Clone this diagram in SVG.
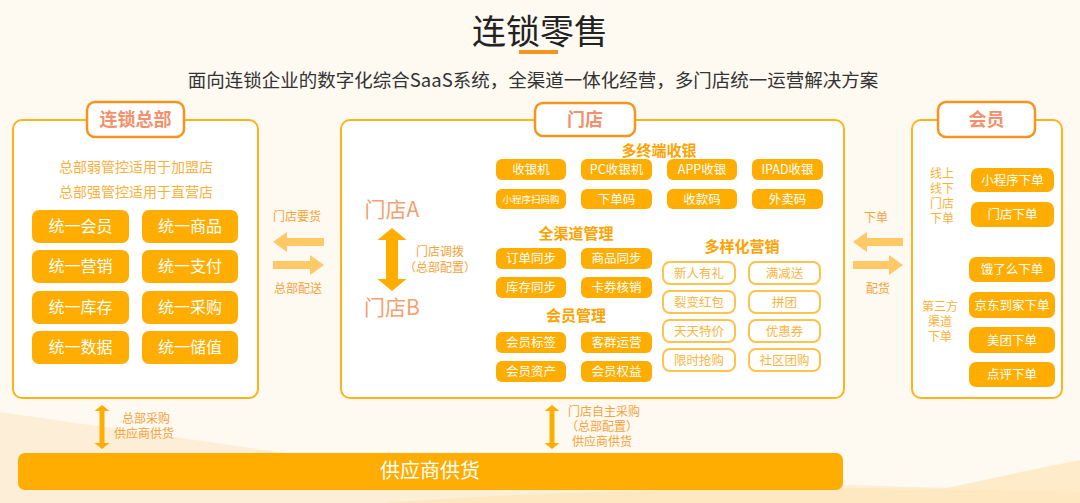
<svg xmlns="http://www.w3.org/2000/svg" width="1080" height="503" viewBox="0 0 1080 503">
<style>
text{font-family:"Noto Sans CJK SC","Liberation Sans",sans-serif;text-anchor:middle}
.panel{fill:#fff;stroke:#ffb319;stroke-width:2}
.tab{fill:#fff;stroke:#f7941d;stroke-width:2.5}
.tabt{font-size:18px;font-weight:bold;fill:#f4906a}
.btn{fill:#ffad00}
.bt{fill:#fff;font-size:16px}
.bs{fill:#fff;font-size:12.5px}
.ob{fill:#fff;stroke:#ffc34d;stroke-width:2}
.ot{fill:#f9b540;font-size:12.5px}
.sec{fill:#ffa200;font-size:15px;font-weight:bold}
.lbl{fill:#f7a23b;font-size:12px}
.note{fill:#fbb03b;font-size:14px}
.col{fill:#fbb03b;font-size:12px}
.arrowL{fill:#ffc966}
.arrowD{fill:#ffad00}
</style>
<rect width="1080" height="503" fill="#fef9f1"/>
<path d="M0 412 L300 455 L620 478 L1080 492 L1080 503 L0 503 Z" fill="#fdefd7"/>
<path d="M880 503 Q980 480 1080 460 L1080 503 Z" fill="#fdebc9"/>
<path d="M380 503 Q700 480 1080 492 L1080 503 Z" fill="#fde8c2"/>
<text x="540" y="44" style="font-size:34px;fill:#222">连锁零售</text>
<rect x="519" y="50" width="39" height="4" fill="#f7941d"/>
<text x="533" y="87" style="font-size:18.5px;fill:#333">面向连锁企业的数字化综合SaaS系统，全渠道一体化经营，多门店统一运营解决方案</text>

<g id="hq">
<rect class="panel" x="13" y="120" width="245" height="278" rx="9"/>
<rect class="tab" x="87" y="102" width="97" height="35" rx="8"/>
<text class="tabt" x="135.5" y="126">连锁总部</text>
<text class="note" x="136" y="172">总部弱管控适用于加盟店</text>
<text class="note" x="136" y="197">总部强管控适用于直营店</text>
<rect class="btn" x="32" y="210" width="97" height="33" rx="7"/><text class="bt" x="80.5" y="232">统一会员</text>
<rect class="btn" x="142" y="210" width="96" height="33" rx="7"/><text class="bt" x="190" y="232">统一商品</text>
<rect class="btn" x="32" y="250" width="97" height="33" rx="7"/><text class="bt" x="80.5" y="272">统一营销</text>
<rect class="btn" x="142" y="250" width="96" height="33" rx="7"/><text class="bt" x="190" y="272">统一支付</text>
<rect class="btn" x="32" y="291" width="97" height="33" rx="7"/><text class="bt" x="80.5" y="313">统一库存</text>
<rect class="btn" x="142" y="291" width="96" height="33" rx="7"/><text class="bt" x="190" y="313">统一采购</text>
<rect class="btn" x="32" y="331" width="97" height="33" rx="7"/><text class="bt" x="80.5" y="353">统一数据</text>
<rect class="btn" x="142" y="331" width="96" height="33" rx="7"/><text class="bt" x="190" y="353">统一储值</text>
</g>

<g id="store">
<rect class="panel" x="341" y="120" width="503" height="278" rx="9"/>
<rect class="tab" x="535" y="103" width="100" height="33" rx="8"/>
<text class="tabt" x="585" y="126">门店</text>
<text x="392" y="217" style="font-size:21px;fill:#f4a070">门店A</text>
<text x="392" y="315" style="font-size:21px;fill:#f4a070">门店B</text>
<text class="lbl" x="440" y="256">门店调拨</text>
<text class="lbl" x="440" y="272">（总部配置）</text>
<text class="sec" x="659" y="156">多终端收银</text>
<rect class="btn" x="496" y="159" width="70" height="21" rx="6"/><text class="bs" x="531" y="174">收银机</text>
<rect class="btn" x="581" y="159" width="71" height="21" rx="6"/><text class="bs" x="616.5" y="174">PC收银机</text>
<rect class="btn" x="667" y="159" width="70" height="21" rx="6"/><text class="bs" x="702" y="174">APP收银</text>
<rect class="btn" x="752" y="159" width="71" height="21" rx="6"/><text class="bs" x="787.5" y="174">IPAD收银</text>
<rect class="btn" x="496" y="189" width="70" height="20" rx="6"/><text class="bs" x="531" y="203" style="font-size:9.5px">小程序扫码购</text>
<rect class="btn" x="581" y="189" width="71" height="20" rx="6"/><text class="bs" x="616.5" y="204">下单码</text>
<rect class="btn" x="667" y="189" width="70" height="20" rx="6"/><text class="bs" x="702" y="204">收款码</text>
<rect class="btn" x="752" y="189" width="71" height="20" rx="6"/><text class="bs" x="787.5" y="204">外卖码</text>
<text class="sec" x="576" y="239">全渠道管理</text>
<rect class="btn" x="496" y="248" width="70" height="21" rx="6"/><text class="bs" x="531" y="263">订单同步</text>
<rect class="btn" x="581" y="248" width="71" height="21" rx="6"/><text class="bs" x="616.5" y="263">商品同步</text>
<rect class="btn" x="496" y="277" width="70" height="21" rx="6"/><text class="bs" x="531" y="292">库存同步</text>
<rect class="btn" x="581" y="277" width="71" height="21" rx="6"/><text class="bs" x="616.5" y="292">卡券核销</text>
<text class="sec" x="576" y="321">会员管理</text>
<rect class="btn" x="496" y="332" width="70" height="21" rx="6"/><text class="bs" x="531" y="347">会员标签</text>
<rect class="btn" x="581" y="332" width="71" height="21" rx="6"/><text class="bs" x="616.5" y="347">客群运营</text>
<rect class="btn" x="496" y="361" width="70" height="21" rx="6"/><text class="bs" x="531" y="376">会员资产</text>
<rect class="btn" x="581" y="361" width="71" height="21" rx="6"/><text class="bs" x="616.5" y="376">会员权益</text>
<text class="sec" x="742" y="252">多样化营销</text>
<rect class="ob" x="663" y="262" width="72" height="22" rx="7"/><text class="ot" x="699" y="277.5">新人有礼</text>
<rect class="ob" x="749" y="262" width="71" height="22" rx="7"/><text class="ot" x="784.5" y="277.5">满减送</text>
<rect class="ob" x="663" y="291" width="72" height="22" rx="7"/><text class="ot" x="699" y="306.5">裂变红包</text>
<rect class="ob" x="749" y="291" width="71" height="22" rx="7"/><text class="ot" x="784.5" y="306.5">拼团</text>
<rect class="ob" x="663" y="320" width="72" height="22" rx="7"/><text class="ot" x="699" y="335.5">天天特价</text>
<rect class="ob" x="749" y="320" width="71" height="22" rx="7"/><text class="ot" x="784.5" y="335.5">优惠券</text>
<rect class="ob" x="663" y="349" width="72" height="22" rx="7"/><text class="ot" x="699" y="364.5">限时抢购</text>
<rect class="ob" x="749" y="349" width="71" height="22" rx="7"/><text class="ot" x="784.5" y="364.5">社区团购</text>
</g>

<g id="member">
<rect class="panel" x="912" y="120" width="150" height="278" rx="9"/>
<rect class="tab" x="938" y="102" width="97" height="35" rx="8"/>
<text class="tabt" x="986.5" y="126">会员</text>
<text class="col" x="942" y="178">线上</text>
<text class="col" x="942" y="193">线下</text>
<text class="col" x="942" y="208">门店</text>
<text class="col" x="942" y="223">下单</text>
<text class="col" x="940" y="311">第三方</text>
<text class="col" x="940" y="326">渠道</text>
<text class="col" x="940" y="341">下单</text>
<rect class="btn" x="971" y="168" width="83" height="24" rx="7"/><text class="bs" x="1012.5" y="185">小程序下单</text>
<rect class="btn" x="971" y="202" width="83" height="25" rx="7"/><text class="bs" x="1012.5" y="219">门店下单</text>
<rect class="btn" x="969" y="257" width="86" height="25" rx="7"/><text class="bs" x="1012" y="274">饿了么下单</text>
<rect class="btn" x="969" y="292" width="86" height="26" rx="7"/><text class="bs" x="1012" y="310">京东到家下单</text>
<rect class="btn" x="969" y="327" width="86" height="26" rx="7"/><text class="bs" x="1012" y="345">美团下单</text>
<rect class="btn" x="969" y="362" width="86" height="25" rx="7"/><text class="bs" x="1012" y="379">点评下单</text>
</g>

<g id="supplier">
<rect class="btn" x="18" y="453" width="825" height="37" rx="7"/>
<text x="430" y="478" style="font-size:20px;fill:#fff">供应商供货</text>
</g>

<g id="connectors">
<polygon class="arrowL" points="273,242 287,232 287,238 324,238 324,246 287,246 287,252"/>
<polygon class="arrowL" points="324,265 310,255 310,261 273,261 273,269 310,269 310,275"/>
<text class="lbl" x="297" y="221">门店要货</text>
<text class="lbl" x="298" y="293">总部配送</text>
<polygon class="arrowL" points="853,242 867,232 867,238 903,238 903,246 867,246 867,252"/>
<polygon class="arrowL" points="903,265 889,255 889,261 853,261 853,269 889,269 889,275"/>
<text class="lbl" x="876" y="222">下单</text>
<text class="lbl" x="878" y="293">配货</text>
<polygon class="arrowD" points="392,228 406.5,240 398,240 398,279 406.5,279 392,291 377.5,279 386,279 386,240 377.5,240"/>
<polygon class="arrowD" points="102,405 109.5,411 104.5,411 104.5,443 109.5,443 102,449 94.5,443 99.5,443 99.5,411 94.5,411"/>
<polygon class="arrowD" points="552,405 559.5,411 554.5,411 554.5,443 559.5,443 552,449 544.5,443 549.5,443 549.5,411 544.5,411"/>
<text class="lbl" x="146" y="423">总部采购</text>
<text class="lbl" x="144" y="438">供应商供货</text>
<text class="lbl" x="604" y="416">门店自主采购</text>
<text class="lbl" x="602" y="431">（总部配置）</text>
<text class="lbl" x="602" y="446">供应商供货</text>
</g>
</svg>
